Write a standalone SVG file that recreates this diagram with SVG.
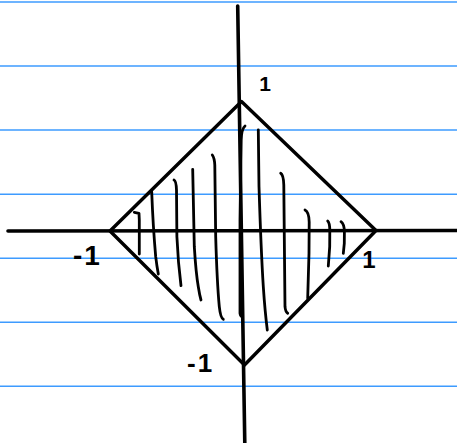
<svg xmlns="http://www.w3.org/2000/svg" width="457" height="443" viewBox="0 0 457 443">
<style>
.rule{stroke:#3d9bff;stroke-width:1.6;fill:none}
.ink{stroke:#000;fill:none;stroke-linecap:round;stroke-linejoin:round}
.axis{stroke-width:3.6}
.edge{stroke-width:3.4}
.hatch{stroke-width:2.8}
.lbl{font-family:"Liberation Sans",Arial,sans-serif;font-weight:bold;fill:#000}
</style>
<rect width="457" height="443" fill="#fff"/>
<g id="paper">
<line class="rule" x1="0" y1="2" x2="457" y2="2"/>
<line class="rule" x1="0" y1="66" x2="457" y2="66"/>
<line class="rule" x1="0" y1="130" x2="457" y2="130"/>
<line class="rule" x1="0" y1="194.3" x2="457" y2="194.3"/>
<line class="rule" x1="0" y1="258.3" x2="457" y2="258.3"/>
<line class="rule" x1="0" y1="322.3" x2="457" y2="322.3"/>
<line class="rule" x1="0" y1="386.3" x2="457" y2="386.3"/>
</g>
<g id="connectors">
<g id="axes">
<line class="ink axis" x1="8" y1="231" x2="457" y2="230.5"/>
<line class="ink axis" x1="237.7" y1="6" x2="244.8" y2="443"/>
</g>
<g id="diamond">
<path class="ink edge" d="M241.5,101.5 L376,230.5 L244.5,365 L110,231 Z"/>
</g>
<g id="hatching">
<path class="ink hatch" d="M134.3,212.3 L139,213.3 L139.3,220 L139.3,254"/>
<path class="ink hatch" d="M151.7,191.7 Q153,226 155.7,256.7 Q156.8,266 158.3,274"/>
<path class="ink hatch" d="M174,180 Q176.2,181 176.5,190 L176.9,236.7 Q178,262 181,285.7"/>
<path class="ink hatch" d="M192.7,169.3 L194.3,246.7 Q196,274 198.3,286.7 Q199.6,295 201,300"/>
<path class="ink hatch" d="M212.3,155 Q214.5,158 214.8,165 L215.7,236.7 Q217,282 219.3,306.7 Q220.5,318 223.3,319.3"/>
<path class="ink hatch" d="M245,126 Q241.5,129 241.2,140 L240,220 L240,313.3 Q240.5,316.5 242.3,316.7"/>
<path class="ink hatch" d="M258.3,130 L259,186.7 Q261,250 263.3,286.7 Q265,312 267.3,330"/>
<path class="ink hatch" d="M280.7,173.3 Q283.5,175 283.8,185 L284.3,236.7 L285,306.7 Q285.5,312 287.7,313.3"/>
<path class="ink hatch" d="M305,210 Q309,212 309.2,222 L309,253.3 L307.7,298.3"/>
<path class="ink hatch" d="M327.7,221 Q329.7,223 329.8,230 L329.7,246.7 L328.3,266"/>
<path class="ink hatch" d="M341,221.7 Q344.3,224 344.4,232 L344.3,243.3 L343.3,253.3"/>
</g>
</g>
<g id="labels">
<text class="lbl" x="265" y="91" font-size="21" text-anchor="middle">1</text>
<text class="lbl" x="73" y="265" font-size="28" letter-spacing="2">-1</text>
<text class="lbl" x="187" y="372" font-size="26" letter-spacing="2">-1</text>
<text class="lbl" x="369" y="268" font-size="24" text-anchor="middle">1</text>
</g>
</svg>
